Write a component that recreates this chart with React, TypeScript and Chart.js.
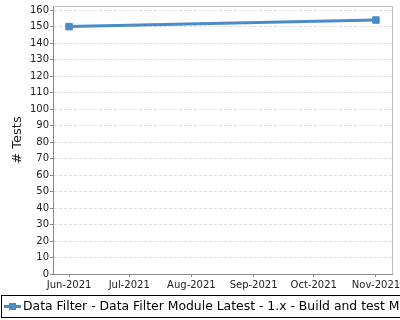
import React, { useEffect, useRef } from "react";
import { Chart, registerables } from "chart.js";

Chart.register(...registerables);

const seriesLabel = "Data Filter - Data Filter Module Latest - 1.x - Build and test Module";
const pointDates = ["2021-06-01", "2021-11-01"];
const testCounts = [150, 154];
const tickDates = ["2021-06-01", "2021-07-01", "2021-08-01", "2021-09-01", "2021-10-01", "2021-11-01"];
const tickLabels = ["Jun-2021", "Jul-2021", "Aug-2021", "Sep-2021", "Oct-2021", "Nov-2021"];
const yTicks = [0, 10, 20, 30, 40, 50, 60, 70, 80, 90, 100, 110, 120, 130, 140, 150, 160];
const yMin = 0;
const yMax = 162.5;
const yTitle = "# Tests";

const toDay = (s: string) => {
  const [y, m, d] = s.split("-").map(Number);
  return Date.UTC(y, m - 1, d) / 86400000;
};

const FONT = "'DejaVu Sans', sans-serif";
const LINE_COLOR = "#4a8bc9";

const frameAndLegend = {
  id: "frameAndLegend",
  afterDraw(chart: any) {
    const { ctx, chartArea } = chart;
    ctx.save();
    ctx.strokeStyle = "#c0c0c0";
    ctx.lineWidth = 1;
    ctx.beginPath();
    ctx.moveTo(chartArea.left, chartArea.top + 0.5);
    ctx.lineTo(chartArea.right + 0.5, chartArea.top + 0.5);
    ctx.lineTo(chartArea.right + 0.5, chartArea.bottom);
    ctx.stroke();
    const ds = chart.data.datasets[0];
    ctx.strokeStyle = "#000";
    ctx.lineWidth = 1;
    ctx.strokeRect(1.5, 295.5, 420, 22);
    const cy = 306.5;
    ctx.strokeStyle = ds.borderColor;
    ctx.lineWidth = 3;
    ctx.beginPath();
    ctx.moveTo(4, cy);
    ctx.lineTo(21, cy);
    ctx.stroke();
    ctx.fillStyle = ds.borderColor;
    ctx.fillRect(9, cy - 3.5, 7, 7);
    ctx.fillStyle = "#000";
    ctx.font = `12.4px ${FONT}`;
    ctx.textBaseline = "middle";
    ctx.textAlign = "left";
    ctx.fillText(ds.label, 23, cy);
    ctx.restore();
  },
};

export default function App() {
  const ref = useRef<HTMLCanvasElement | null>(null);
  useEffect(() => {
    document.body.style.margin = "0";
    const xTickVals = tickDates.map(toDay);
    const chart = new Chart(ref.current as HTMLCanvasElement, {
      type: "line",
      data: {
        datasets: [
          {
            label: seriesLabel,
            data: pointDates.map((d, i) => ({ x: toDay(d), y: testCounts[i] })),
            borderColor: LINE_COLOR,
            backgroundColor: LINE_COLOR,
            borderWidth: 3,
            pointStyle: "rect",
            pointRadius: 4.6,
            pointBorderWidth: 1,
            pointBackgroundColor: LINE_COLOR,
            pointBorderColor: LINE_COLOR,
            fill: false,
            tension: 0,
          },
        ],
      },
      options: {
        animation: false,
        responsive: false,
        devicePixelRatio: 1,
        layout: { padding: { left: 0, right: 8, top: 6, bottom: 0 } },
        plugins: { legend: { display: false }, tooltip: { enabled: false } },
        scales: {
          x: {
            type: "linear",
            min: xTickVals[0] - 8,
            max: xTickVals[xTickVals.length - 1] + 8,
            afterBuildTicks: (scale: any) => {
              scale.ticks = xTickVals.map((v) => ({ value: v }));
            },
            afterFit: (scale: any) => {
              scale.height = 46;
              scale.paddingLeft = 0;
              scale.paddingRight = 0;
            },
            ticks: {
              autoSkip: false,
              maxRotation: 0,
              padding: 2,
              color: "#222",
              font: { family: FONT, size: 10 },
              callback: (_v: any, i: number) => tickLabels[i],
            },
            grid: { drawOnChartArea: false, drawTicks: true, tickLength: 3, tickColor: "#888" },
            border: { display: true, color: "#888", width: 1 },
          },
          y: {
            type: "linear",
            min: yMin,
            max: yMax,
            afterBuildTicks: (scale: any) => {
              scale.ticks = yTicks.map((v) => ({ value: v }));
            },
            afterFit: (scale: any) => {
              scale.width = 53;
              scale.paddingTop = 0;
              scale.paddingBottom = 0;
            },
            ticks: {
              padding: 1,
              color: "#222",
              font: { family: FONT, size: 10 },
            },
            grid: { color: "#dcdcdc", lineWidth: 1, drawTicks: true, tickLength: 3, tickColor: "#888" },
            border: { display: true, color: "#888", width: 1, dash: [3, 2] },
            title: {
              display: true,
              text: yTitle,
              color: "#222",
              font: { family: FONT, size: 13 },
              padding: { top: 10, bottom: 0 },
            },
          },
        },
      },
      plugins: [frameAndLegend],
    } as any);
    return () => chart.destroy();
  }, []);
  return (
    <div style={{ width: 400, height: 320 }}>
      <canvas ref={ref} width={400} height={320} />
    </div>
  );
}
